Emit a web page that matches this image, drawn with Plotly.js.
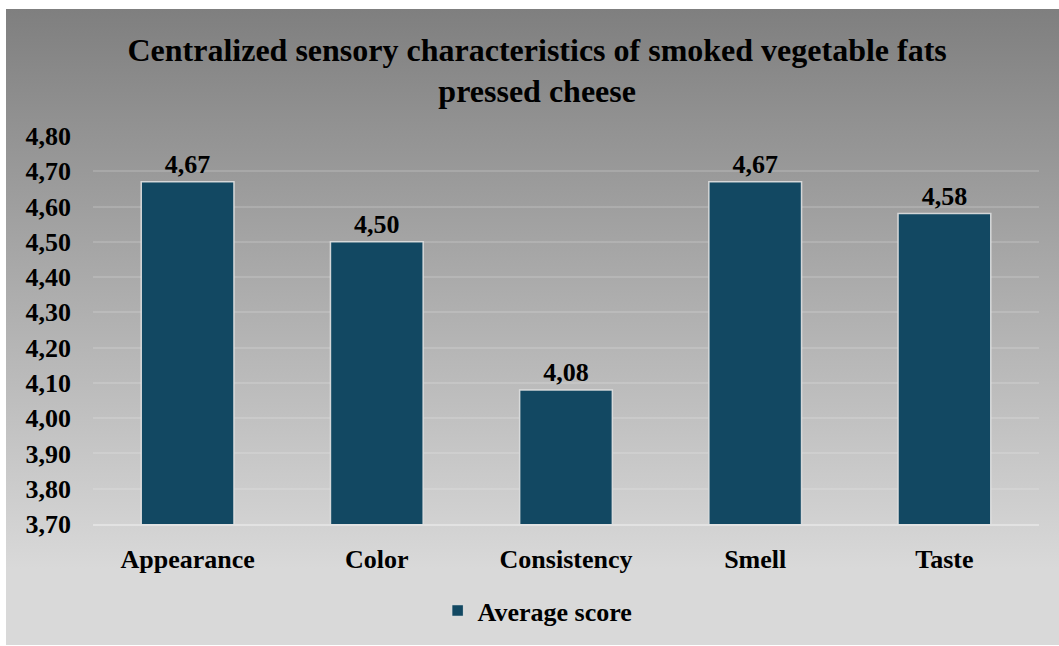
<!DOCTYPE html>
<html>
<head>
<meta charset="utf-8">
<script src="https://cdn.plot.ly/plotly-3.0.1.min.js"></script>
<style>
  html, body { margin: 0; padding: 0; background: #ffffff; }
  #wrap { position: relative; width: 1059px; height: 646px; }
  #bg { position: absolute; left: 6px; top: 9px; width: 1053px; height: 636px;
        background: linear-gradient(to bottom, #7f7f7f 0%, #d9d9d9 88%, #d9d9d9 100%); }
  #chart { position: absolute; left: 0; top: 0; width: 1059px; height: 646px; }
</style>
</head>
<body>
<div id="wrap">
  <div id="bg"></div>
  <div id="chart"></div>
</div>
<script>
const categories = ["Appearance", "Color", "Consistency", "Smell", "Taste"];
const averageScore = [4.67, 4.50, 4.08, 4.67, 4.58];
const seriesName = "Average score";
const titleText = "Centralized sensory characteristics of smoked vegetable fats<br>pressed cheese";
const yTickVals = [3.70, 3.80, 3.90, 4.00, 4.10, 4.20, 4.30, 4.40, 4.50, 4.60, 4.70, 4.80];

const fontFamily = '"Liberation Serif", "Times New Roman", serif';

const trace = {
  type: 'bar',
  x: categories,
  y: averageScore,
  name: seriesName,
  marker: { color: '#124862', line: { color: 'rgba(225,225,225,0.9)', width: 1.5 } },
  text: averageScore,
  texttemplate: '%{y:.2f}',
  textposition: 'outside',
  cliponaxis: false,
  textfont: { family: fontFamily, size: 26, color: '#000000', weight: 'bold' },
  showlegend: true,
  hoverinfo: 'x+y'
};

const layout = {
  width: 1059,
  height: 646,
  paper_bgcolor: 'rgba(0,0,0,0)',
  plot_bgcolor: 'rgba(0,0,0,0)',
  separators: ', ',
  font: { family: fontFamily, size: 26, color: '#000000', weight: 'bold' },
  margin: { l: 93, r: 20, t: 136, b: 120, pad: 0 },
  title: {
    text: titleText,
    font: { family: fontFamily, size: 32, color: '#000000', weight: 'bold' },
    x: 0.4695, xanchor: 'center', xref: 'paper',
    y: 0.906, yanchor: 'top', yref: 'container',
    pad: { t: 0, b: 0 }
  },
  bargap: 0.51,
  xaxis: {
    type: 'category',
    showgrid: false,
    showline: true,
    linecolor: '#e2e2e2',
    linewidth: 2,
    ticks: '',
    ticklabelstandoff: 11,
    tickfont: { family: fontFamily, size: 26, color: '#000000', weight: 'bold' }
  },
  yaxis: {
    range: [3.70, 4.80],
    tickvals: yTickVals,
    tickformat: '.2f',
    showgrid: true,
    gridcolor: 'rgba(255,255,255,0.15)',
    gridwidth: 1.5,
    zeroline: false,
    showline: false,
    ticks: '',
    ticklabelstandoff: 21,
    tickfont: { family: fontFamily, size: 26, color: '#000000', weight: 'bold' }
  },
  legend: {
    orientation: 'h',
    x: 0.47, xanchor: 'center',
    y: -0.223, yanchor: 'middle',
    bgcolor: 'rgba(0,0,0,0)',
    font: { family: fontFamily, size: 26, color: '#000000', weight: 'bold' }
  },
  showlegend: true
};

Plotly.newPlot('chart', [trace], layout, { displayModeBar: false, responsive: false });
</script>
</body>
</html>
